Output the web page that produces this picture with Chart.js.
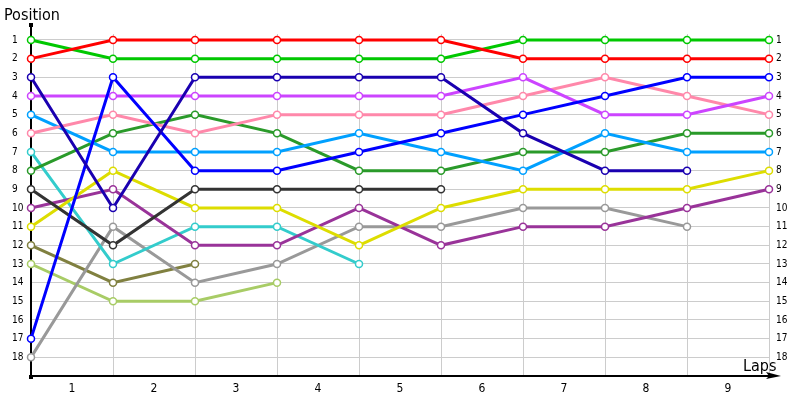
<!DOCTYPE html>
<html>
<head>
<meta charset="utf-8">
<script src="https://cdn.jsdelivr.net/npm/chart.js@4.4.0/dist/chart.umd.min.js"></script>
<style>
  html, body { margin: 0; padding: 0; background: #fff; }
  #wrap { width: 800px; height: 400px; }
</style>
</head>
<body>
<div id="wrap"><canvas id="lapChart"></canvas></div>
<script>
// --- Data ---
const laps = [0, 1, 2, 3, 4, 5, 6, 7, 8, 9];
const lapLabels = ['1', '2', '3', '4', '5', '6', '7', '8', '9'];
const positions = [1, 2, 3, 4, 5, 6, 7, 8, 9, 10, 11, 12, 13, 14, 15, 16, 17, 18];

// position of each car at every lap mark (null = retired)
const red        = [2, 1, 1, 1, 1, 1, 2, 2, 2, 2];
const green      = [1, 2, 2, 2, 2, 2, 1, 1, 1, 1];
const navy       = [3, 10, 3, 3, 3, 3, 6, 8, 8, null];
const blue       = [17, 3, 8, 8, 7, 6, 5, 4, 3, 3];
const violet     = [4, 4, 4, 4, 4, 4, 3, 5, 5, 4];
const pink       = [6, 5, 6, 5, 5, 5, 4, 3, 4, 5];
const skyBlue    = [5, 7, 7, 7, 6, 7, 8, 6, 7, 7];
const darkGreen  = [8, 6, 5, 6, 8, 8, 7, 7, 6, 6];
const charcoal   = [9, 12, 9, 9, 9, 9, null, null, null, null];
const yellow     = [11, 8, 10, 10, 12, 10, 9, 9, 9, 8];
const purple     = [10, 9, 12, 12, 10, 12, 11, 11, 10, 9];
const teal       = [7, 13, 11, 11, 13, null, null, null, null, null];
const grey       = [18, 11, 14, 13, 11, 11, 10, 10, 11, null];
const olive      = [12, 14, 13, null, null, null, null, null, null, null];
const lightGreen = [13, 15, 15, 14, null, null, null, null, null, null];

const series = [
    { data: red,        color: '#ff0000' },
    { data: green,      color: '#00c800' },
    { data: navy,       color: '#1a00b0' },
    { data: blue,       color: '#0000ff' },
    { data: violet,     color: '#cc44ff' },
    { data: pink,       color: '#ff88aa' },
    { data: skyBlue,    color: '#00a0ff' },
    { data: darkGreen,  color: '#2a9a2a' },
    { data: charcoal,   color: '#333333' },
    { data: yellow,     color: '#dddd00' },
    { data: purple,     color: '#993399' },
    { data: teal,       color: '#33cccc' },
    { data: grey,       color: '#999999' },
    { data: olive,      color: '#808040' },
    { data: lightGreen, color: '#a8cc66' }
];

const FONT = '"DejaVu Sans Condensed", "DejaVu Sans", sans-serif';

// --- Axes with arrows and the two axis titles ---
const lapAxes = {
    id: 'lapAxes',
    beforeDatasetsDraw(chart) {
        const { ctx, chartArea: a } = chart;
        ctx.save();
        ctx.strokeStyle = '#000';
        ctx.fillStyle = '#000';
        ctx.lineWidth = 2;
        ctx.beginPath();
        ctx.moveTo(a.left, a.bottom);
        ctx.lineTo(a.left, 25);
        ctx.stroke();
        ctx.beginPath();
        ctx.moveTo(a.left, a.bottom);
        ctx.lineTo(775, a.bottom);
        ctx.stroke();
        // arrow head
        ctx.beginPath();
        ctx.moveTo(781, a.bottom);
        ctx.lineTo(766, a.bottom - 4);
        ctx.lineTo(769, a.bottom);
        ctx.lineTo(766, a.bottom + 3);
        ctx.closePath();
        ctx.fill();
        ctx.fillRect(a.left - 2, 23, 4, 4);
        ctx.fillRect(a.left - 2, a.bottom - 1, 4, 4);
        ctx.restore();
    },
    afterDraw(chart) {
        const ctx = chart.ctx;
        ctx.save();
        ctx.fillStyle = '#000';
        ctx.font = '16px ' + FONT;
        ctx.textBaseline = 'alphabetic';
        ctx.textAlign = 'left';
        ctx.fillText('Position', 4, 20);
        ctx.fillText('Laps', 743, 371);
        ctx.restore();
    }
};

const posTicks = (scale) => { scale.ticks = positions.map(v => ({ value: v })); };

new Chart(document.getElementById('lapChart'), {
    type: 'line',
    data: {
        datasets: series.map(s => ({
            data: s.data.map((p, i) => ({ x: laps[i], y: p })),
            borderColor: s.color,
            borderWidth: 3,
            pointRadius: 3.5,
            pointBorderWidth: 1.5,
            pointBackgroundColor: '#fff',
            pointBorderColor: s.color,
            tension: 0,
            spanGaps: false,
            clip: false
        }))
    },
    plugins: [lapAxes],
    options: {
        responsive: true,
        maintainAspectRatio: false,
        animation: false,
        layout: { padding: { left: 12, top: 34, right: 0, bottom: 0 } },
        plugins: {
            legend: { display: false },
            tooltip: { enabled: false }
        },
        scales: {
            x: {
                type: 'linear',
                min: 0,
                max: 9,
                border: { display: false },
                grid: { color: '#cccccc', lineWidth: 1, drawTicks: false },
                afterBuildTicks: (scale) => { scale.ticks = laps.map(v => ({ value: v })); },
                afterFit: (scale) => { scale.height = 24; },
                ticks: {
                    padding: 6,
                    labelOffset: 41,
                    maxRotation: 0,
                    autoSkip: false,
                    color: '#000',
                    font: { family: FONT, size: 12 },
                    callback: (v) => lapLabels[v] || ''
                }
            },
            y: {
                type: 'linear',
                position: 'left',
                reverse: true,
                min: 0.68,
                max: 19,
                border: { display: false },
                grid: { color: '#cccccc', lineWidth: 1, drawTicks: false },
                afterBuildTicks: posTicks,
                afterFit: (scale) => { scale.width = 19; },
                ticks: {
                    crossAlign: 'far',
                    color: '#000',
                    font: { family: FONT, size: 10 },
                    callback: (v) => String(v)
                }
            },
            yRight: {
                type: 'linear',
                position: 'right',
                reverse: true,
                min: 0.68,
                max: 19,
                border: { display: false },
                grid: { display: false, drawTicks: false },
                afterBuildTicks: posTicks,
                afterFit: (scale) => { scale.width = 31; },
                ticks: {
                    padding: 7,
                    color: '#000',
                    font: { family: FONT, size: 10 },
                    callback: (v) => String(v)
                }
            }
        }
    }
});
</script>
</body>
</html>
